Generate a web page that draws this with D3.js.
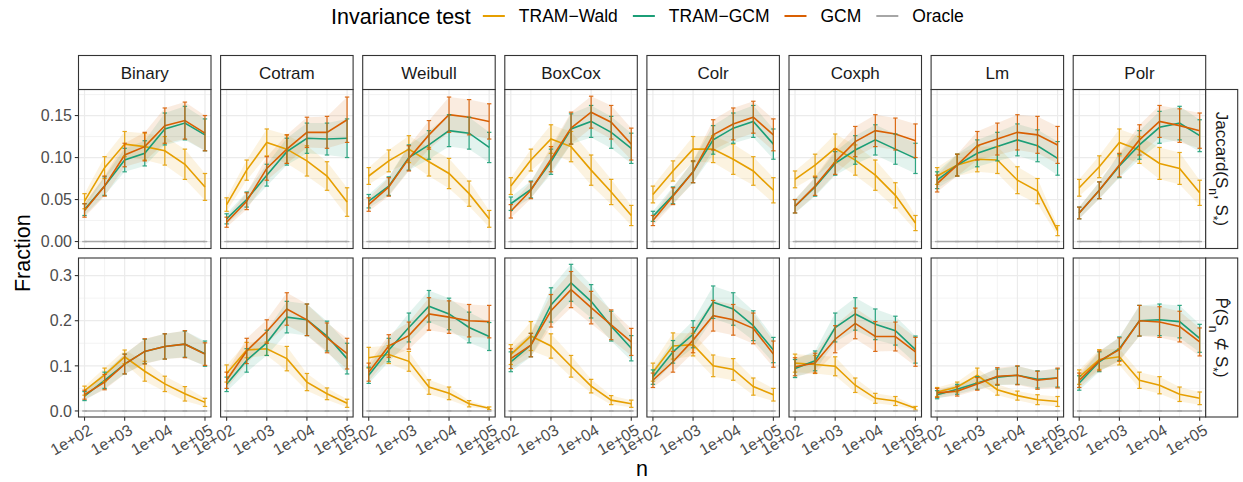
<!DOCTYPE html>
<html>
<head>
<meta charset="utf-8">
<script src="https://cdn.jsdelivr.net/npm/d3@7"></script>
<style>
  body { margin: 0; background: #fff; }
  text { font-family: "Liberation Sans", Arial, sans-serif; }
</style>
</head>
<body>
<svg id="chart" width="1243" height="482"></svg>
<script>
// ---------------- DATA ----------------
const models = ["Binary", "Cotram", "Weibull", "BoxCox", "Colr", "Coxph", "Lm", "Polr"];
const tests = ["TRAM\u2212Wald", "TRAM\u2212GCM", "GCM", "Oracle"];
const testColors = ["#E69F00", "#1B9E77", "#D95F02", "#A6A6A6"];
const nValues = [100, 316, 1000, 3162, 10000, 31623, 100000];
const xTickValues = [100, 1000, 10000, 100000];
const xTickLabels = ["1e+02", "1e+03", "1e+04", "1e+05"];
const yTicksJaccard = [0, 0.05, 0.10, 0.15];
const yTickLabelsJaccard = ["0.00", "0.05", "0.10", "0.15"];
const yTicksProb = [0, 0.1, 0.2, 0.3];
const yTickLabelsProb = ["0.0", "0.1", "0.2", "0.3"];

// Jaccard(S_n, S*) — rows follow `models`
const jaccardWald = [
  [0.048,0.088,0.116,0.113,0.108,0.092,0.065],
  [0.044,0.085,0.118,0.110,0.096,0.078,0.047],
  [0.078,0.096,0.110,0.095,0.081,0.057,0.027],
  [0.066,0.097,0.122,0.113,0.085,0.059,0.031],
  [0.056,0.084,0.110,0.110,0.098,0.084,0.061],
  [0.074,0.091,0.111,0.097,0.079,0.055,0.022],
  [0.078,0.091,0.098,0.097,0.073,0.060,0.013],
  [0.064,0.089,0.118,0.109,0.093,0.087,0.058]
];
const jaccardWaldErr = [
  [0.009,0.013,0.015,0.016,0.017,0.018,0.016],
  [0.008,0.012,0.016,0.017,0.018,0.017,0.017],
  [0.010,0.013,0.016,0.017,0.018,0.015,0.010],
  [0.010,0.013,0.017,0.018,0.018,0.015,0.012],
  [0.010,0.012,0.015,0.016,0.018,0.017,0.015],
  [0.010,0.013,0.017,0.018,0.018,0.015,0.009],
  [0.010,0.013,0.015,0.016,0.016,0.015,0.006],
  [0.010,0.013,0.016,0.016,0.019,0.019,0.015]
];
const jaccardTramGcm = [
  [0.038,0.066,0.097,0.105,0.134,0.141,0.127],
  [0.027,0.050,0.079,0.107,0.123,0.122,0.123],
  [0.048,0.066,0.100,0.115,0.132,0.129,0.112],
  [0.045,0.062,0.095,0.134,0.143,0.130,0.111],
  [0.030,0.055,0.083,0.121,0.135,0.143,0.116],
  [0.042,0.065,0.093,0.109,0.121,0.110,0.099],
  [0.073,0.091,0.105,0.113,0.121,0.114,0.099],
  [0.034,0.061,0.090,0.115,0.136,0.141,0.126]
];
const jaccardTramGcmErr = [
  [0.007,0.011,0.014,0.015,0.019,0.020,0.019],
  [0.006,0.009,0.013,0.016,0.018,0.019,0.023],
  [0.008,0.011,0.015,0.017,0.019,0.019,0.018],
  [0.008,0.010,0.015,0.018,0.019,0.019,0.018],
  [0.006,0.010,0.013,0.017,0.018,0.019,0.018],
  [0.008,0.011,0.014,0.017,0.018,0.018,0.018],
  [0.010,0.013,0.016,0.017,0.019,0.019,0.020],
  [0.007,0.010,0.014,0.017,0.019,0.020,0.019]
];
const jaccardGcm = [
  [0.037,0.066,0.103,0.113,0.138,0.144,0.129],
  [0.023,0.048,0.087,0.110,0.130,0.130,0.145],
  [0.044,0.065,0.099,0.127,0.151,0.148,0.143],
  [0.036,0.061,0.098,0.135,0.154,0.142,0.116],
  [0.025,0.054,0.083,0.127,0.140,0.148,0.127],
  [0.042,0.066,0.095,0.119,0.132,0.128,0.120],
  [0.069,0.091,0.114,0.122,0.130,0.127,0.115],
  [0.034,0.061,0.091,0.121,0.143,0.138,0.132]
];
const jaccardGcmErr = [
  [0.008,0.012,0.014,0.017,0.021,0.022,0.021],
  [0.006,0.010,0.014,0.017,0.018,0.019,0.027],
  [0.008,0.011,0.015,0.017,0.021,0.021,0.021],
  [0.008,0.010,0.015,0.019,0.019,0.020,0.019],
  [0.006,0.010,0.013,0.018,0.019,0.019,0.019],
  [0.008,0.011,0.015,0.018,0.019,0.019,0.020],
  [0.010,0.013,0.017,0.019,0.021,0.022,0.022],
  [0.007,0.010,0.014,0.018,0.019,0.020,0.021]
];

// P(S_n not subset of S*) — rows follow `models`
const probWald = [
  [0.045,0.080,0.120,0.088,0.060,0.038,0.019],
  [0.083,0.135,0.138,0.116,0.064,0.038,0.017],
  [0.118,0.125,0.110,0.053,0.039,0.016,0.006],
  [0.125,0.166,0.144,0.099,0.055,0.024,0.016],
  [0.086,0.144,0.147,0.100,0.092,0.054,0.036],
  [0.106,0.103,0.099,0.057,0.028,0.022,0.006],
  [0.042,0.053,0.079,0.047,0.034,0.025,0.021],
  [0.075,0.114,0.120,0.068,0.057,0.037,0.028]
];
const probWaldErr = [
  [0.010,0.015,0.015,0.022,0.017,0.016,0.009],
  [0.019,0.017,0.015,0.027,0.019,0.013,0.009],
  [0.023,0.020,0.022,0.016,0.014,0.007,0.003],
  [0.022,0.032,0.027,0.024,0.015,0.010,0.008],
  [0.020,0.029,0.025,0.024,0.024,0.019,0.014],
  [0.020,0.020,0.021,0.016,0.011,0.010,0.004],
  [0.010,0.011,0.016,0.012,0.010,0.011,0.011],
  [0.016,0.022,0.018,0.018,0.019,0.016,0.014]
];
const probTramGcm = [
  [0.033,0.068,0.104,0.132,0.143,0.148,0.127],
  [0.059,0.112,0.151,0.208,0.202,0.166,0.116],
  [0.079,0.135,0.185,0.232,0.215,0.185,0.165],
  [0.109,0.146,0.235,0.284,0.243,0.188,0.139],
  [0.075,0.131,0.170,0.241,0.226,0.189,0.135],
  [0.094,0.111,0.185,0.215,0.192,0.178,0.136],
  [0.036,0.048,0.062,0.075,0.079,0.070,0.073],
  [0.062,0.109,0.138,0.200,0.202,0.198,0.161]
];
const probTramGcmErr = [
  [0.010,0.018,0.022,0.027,0.028,0.029,0.028],
  [0.016,0.026,0.028,0.035,0.035,0.033,0.034],
  [0.018,0.026,0.032,0.035,0.035,0.034,0.031],
  [0.022,0.026,0.038,0.041,0.037,0.033,0.028],
  [0.016,0.025,0.030,0.036,0.036,0.033,0.028],
  [0.020,0.022,0.032,0.036,0.034,0.032,0.030],
  [0.009,0.011,0.014,0.018,0.020,0.019,0.020],
  [0.016,0.022,0.026,0.034,0.035,0.036,0.031]
];
const probGcm = [
  [0.036,0.064,0.104,0.132,0.143,0.148,0.126],
  [0.068,0.133,0.176,0.226,0.202,0.162,0.127],
  [0.086,0.144,0.167,0.215,0.208,0.200,0.198],
  [0.116,0.146,0.222,0.269,0.229,0.191,0.153],
  [0.068,0.109,0.157,0.211,0.202,0.183,0.126],
  [0.098,0.106,0.159,0.194,0.165,0.165,0.131],
  [0.040,0.044,0.060,0.077,0.079,0.068,0.073],
  [0.068,0.111,0.136,0.200,0.197,0.187,0.153]
];
const probGcmErr = [
  [0.010,0.017,0.022,0.028,0.028,0.030,0.025],
  [0.018,0.028,0.026,0.036,0.035,0.033,0.034],
  [0.020,0.025,0.030,0.036,0.036,0.036,0.036],
  [0.022,0.026,0.036,0.040,0.036,0.033,0.030],
  [0.016,0.023,0.028,0.034,0.034,0.034,0.029],
  [0.020,0.022,0.030,0.034,0.033,0.032,0.032],
  [0.010,0.011,0.014,0.019,0.021,0.020,0.022],
  [0.016,0.022,0.026,0.034,0.034,0.034,0.031]
];
const oracleValues = [0, 0, 0, 0, 0, 0, 0];

// ---------------- LAYOUT ----------------
const svg = d3.select("#chart");
const panelLeft0 = 78.5, panelStep = 142.1, panelW = 132.5, panelH = 159;
const rowTops = [89.5, 258];
const stripTop = 55.5, stripH = 34;
const rightStripX = panelLeft0 + 7 * panelStep + panelW, rightStripW = 32;
const border = "#333333", gridCol = "#EBEBEB";

const x = d3.scaleLog().domain([Math.pow(10, 1.85), Math.pow(10, 5.15)]).range([0, panelW]);
const xMinor = [Math.pow(10, 2.5), Math.pow(10, 3.5), Math.pow(10, 4.5)];

const rows = [
  { domain: [-0.0083, 0.181], ticks: yTicksJaccard, labels: yTickLabelsJaccard,
    minor: [0.025, 0.075, 0.125, 0.175],
    series: [[jaccardWald, jaccardWaldErr], [jaccardTramGcm, jaccardTramGcmErr], [jaccardGcm, jaccardGcmErr]] },
  { domain: [-0.0134, 0.339], ticks: yTicksProb, labels: yTickLabelsProb,
    minor: [0.05, 0.15, 0.25],
    series: [[probWald, probWaldErr], [probTramGcm, probTramGcmErr], [probGcm, probGcmErr]] }
];

rows.forEach((row, r) => {
  const y = d3.scaleLinear().domain(row.domain).range([panelH, 0]);
  models.forEach((m, i) => {
    const g = svg.append("g").attr("transform", `translate(${panelLeft0 + i * panelStep},${rowTops[r]})`);
    // grid
    g.selectAll(".ymin").data(row.minor).join("line")
      .attr("x1", 0).attr("x2", panelW).attr("y1", d => y(d)).attr("y2", d => y(d))
      .attr("stroke", gridCol).attr("stroke-width", 0.6);
    g.selectAll(".xmin").data(xMinor).join("line")
      .attr("y1", 0).attr("y2", panelH).attr("x1", d => x(d)).attr("x2", d => x(d))
      .attr("stroke", gridCol).attr("stroke-width", 0.6);
    g.selectAll(".ymaj").data(row.ticks).join("line")
      .attr("x1", 0).attr("x2", panelW).attr("y1", d => y(d)).attr("y2", d => y(d))
      .attr("stroke", gridCol).attr("stroke-width", 1.2);
    g.selectAll(".xmaj").data(xTickValues).join("line")
      .attr("y1", 0).attr("y2", panelH).attr("x1", d => x(d)).attr("x2", d => x(d))
      .attr("stroke", gridCol).attr("stroke-width", 1.2);

    // series data
    const ser = row.series.map(([vals, errs]) => nValues.map((n, k) => ({ n, v: vals[i][k], e: errs[i][k] })));
    ser.push(nValues.map((n, k) => ({ n, v: oracleValues[k], e: 0 })));

    const area = d3.area().x(d => x(d.n)).y0(d => y(d.v - d.e)).y1(d => y(d.v + d.e));
    const line = d3.line().x(d => x(d.n)).y(d => y(d.v));

    ser.forEach((s, t) => {
      if (t < 3) g.append("path").attr("d", area(s)).attr("fill", testColors[t]).attr("fill-opacity", 0.12);
    });
    ser.forEach((s, t) => {
      g.append("path").attr("d", line(s)).attr("fill", "none")
        .attr("stroke", testColors[t]).attr("stroke-width", 1.6);
    });
    ser.forEach((s, t) => {
      const eg = g.append("g").attr("stroke", testColors[t]).attr("stroke-width", 1.2).attr("opacity", 0.9);
      s.forEach(d => {
        const cx = x(d.n), y0 = y(d.v - d.e), y1 = y(d.v + d.e);
        eg.append("line").attr("x1", cx).attr("x2", cx).attr("y1", y0).attr("y2", y1);
        eg.append("line").attr("x1", cx - 2.2).attr("x2", cx + 2.2).attr("y1", y0).attr("y2", y0);
        eg.append("line").attr("x1", cx - 2.2).attr("x2", cx + 2.2).attr("y1", y1).attr("y2", y1);
      });
    });

    // border
    g.append("rect").attr("width", panelW).attr("height", panelH)
      .attr("fill", "none").attr("stroke", border).attr("stroke-width", 1.1);

    // top strip
    if (r === 0) {
      const sg = svg.append("g").attr("transform", `translate(${panelLeft0 + i * panelStep},${stripTop})`);
      sg.append("rect").attr("width", panelW).attr("height", stripH)
        .attr("fill", "#fff").attr("stroke", border).attr("stroke-width", 1.1);
      sg.append("text").attr("x", panelW / 2).attr("y", stripH / 2).attr("dy", "0.36em")
        .attr("text-anchor", "middle").attr("font-size", 17).attr("fill", "#1A1A1A").text(m);
    }

    // y axis
    if (i === 0) {
      const ax = g.append("g");
      row.ticks.forEach((tv, ti) => {
        ax.append("line").attr("x1", -3.7).attr("x2", 0).attr("y1", y(tv)).attr("y2", y(tv))
          .attr("stroke", border).attr("stroke-width", 1.1);
        ax.append("text").attr("x", -6.5).attr("y", y(tv)).attr("dy", "0.36em")
          .attr("text-anchor", "end").attr("font-size", 16).attr("fill", "#4D4D4D").text(row.labels[ti]);
      });
    }
    // x axis
    if (r === 1) {
      const ax = g.append("g");
      xTickValues.forEach((tv, ti) => {
        ax.append("line").attr("x1", x(tv)).attr("x2", x(tv)).attr("y1", panelH).attr("y2", panelH + 3.7)
          .attr("stroke", border).attr("stroke-width", 1.1);
        ax.append("text")
          .attr("transform", `translate(${x(tv) + 3},${panelH + 6}) rotate(-30)`)
          .attr("dy", "0.75em").attr("text-anchor", "end")
          .attr("font-size", 16).attr("fill", "#4D4D4D").text(xTickLabels[ti]);
      });
    }
  });

  // right strip
  const rg = svg.append("g").attr("transform", `translate(${rightStripX},${rowTops[r]})`);
  rg.append("rect").attr("width", rightStripW).attr("height", panelH)
    .attr("fill", "#fff").attr("stroke", border).attr("stroke-width", 1.1);
  const rt = rg.append("text")
    .attr("transform", `translate(${rightStripW / 2},${panelH / 2}) rotate(90)`)
    .attr("text-anchor", "middle").attr("dy", "0.36em")
    .attr("font-size", 17).attr("fill", "#1A1A1A");
  if (r === 0) {
    rt.append("tspan").text("Jaccard(S");
    rt.append("tspan").attr("baseline-shift", "sub").attr("font-size", 12).text("n");
    rt.append("tspan").text(", S");
    rt.append("tspan").attr("baseline-shift", "sub").attr("font-size", 12).text("*");
    rt.append("tspan").text(")");
  } else {
    rt.append("tspan").text("P\u0302(S");
    rt.append("tspan").attr("baseline-shift", "sub").attr("font-size", 12).text("n");
    rt.append("tspan").text(" \u2284 S");
    rt.append("tspan").attr("baseline-shift", "sub").attr("font-size", 12).text("*");
    rt.append("tspan").text(")");
  }
});

// axis titles
svg.append("text").attr("transform", `translate(22,${(rowTops[0] + rowTops[1] + panelH) / 2}) rotate(-90)`)
  .attr("text-anchor", "middle").attr("dy", "0.36em").attr("font-size", 21.5).attr("fill", "#000").text("Fraction");
svg.append("text").attr("x", panelLeft0 + (7 * panelStep + panelW) / 2).attr("y", 476)
  .attr("text-anchor", "middle").attr("font-size", 21.5).attr("fill", "#000").text("n");

// legend
const lg = svg.append("g").attr("transform", "translate(331,16)");
const title = lg.append("text").attr("x", 0).attr("y", 0).attr("dy", "0.36em")
  .attr("font-size", 21.5).attr("fill", "#000").text("Invariance test");
let cx = title.node().getComputedTextLength() + 12;
tests.forEach((t, i) => {
  lg.append("line").attr("x1", cx).attr("x2", cx + 22).attr("y1", 0).attr("y2", 0)
    .attr("stroke", testColors[i]).attr("stroke-width", 2);
  cx += 22 + 14;
  const tx = lg.append("text").attr("x", cx).attr("y", 0).attr("dy", "0.36em")
    .attr("font-size", 17.5).attr("fill", "#000").text(t);
  cx += tx.node().getComputedTextLength() + 15;
});
</script>
</body>
</html>
